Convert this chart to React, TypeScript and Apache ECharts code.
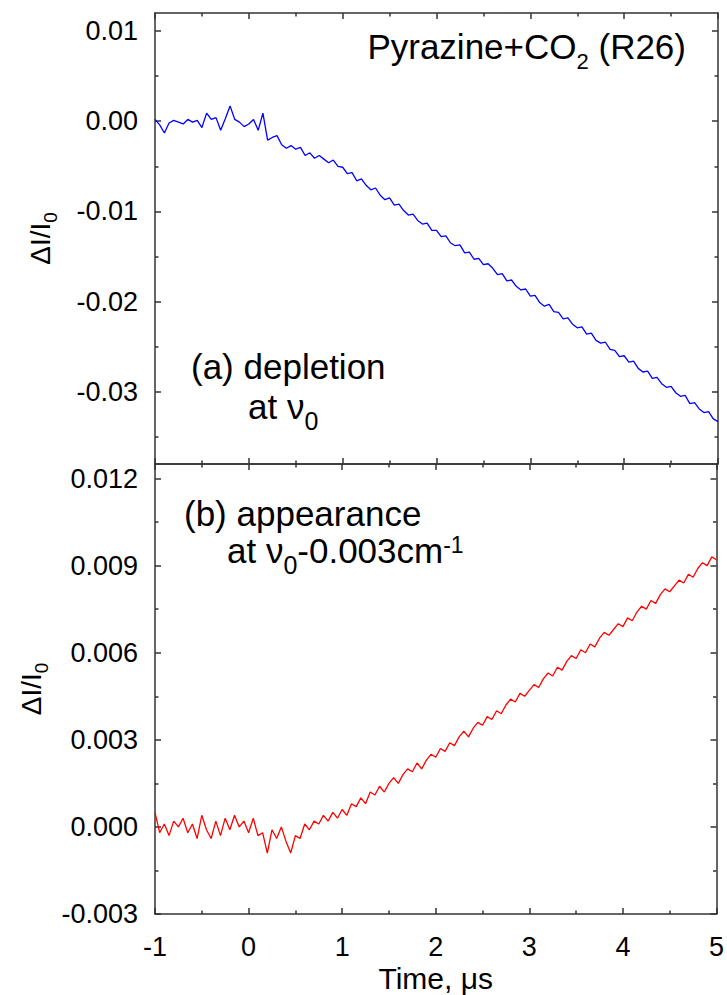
import React, { useEffect, useRef } from 'react';
import * as echarts from 'echarts';

// Time sampling of the traces (µs)
const timeStart = -1;
const timeStep = 0.05;

// (a) depletion at v0 — ΔI/I0, one value per 0.05 µs from -1 to 5
const depletion = [
  0.0002, -0.0004, -0.0013, -0.0002, 0.0001, -0.0001, -0.0003, 0.0002, -0.0001, 0.0001,
  -0.0007, 0.0009, 0.0002, 0.0004, -0.0010, 0.0003, 0.0017, 0.0002, -0.0001, -0.0006,
  -0.0003, 0.0002, -0.0010, 0.0009, -0.0021, -0.0018, -0.0016, -0.0026, -0.0030, -0.0027,
  -0.0031, -0.0029, -0.0038, -0.0035, -0.0041, -0.0038, -0.0042, -0.0046, -0.0043, -0.0050,
  -0.0051, -0.0058, -0.0057, -0.0066, -0.0064, -0.0071, -0.0076, -0.0074, -0.0082, -0.0087,
  -0.0085, -0.0093, -0.0092, -0.0099, -0.0104, -0.0103, -0.0110, -0.0114, -0.0113, -0.0121,
  -0.0121, -0.0128, -0.0127, -0.0135, -0.0138, -0.0137, -0.0146, -0.0145, -0.0153, -0.0152,
  -0.0159, -0.0158, -0.0163, -0.0170, -0.0169, -0.0177, -0.0176, -0.0183, -0.0187, -0.0186,
  -0.0194, -0.0193, -0.0201, -0.0205, -0.0203, -0.0211, -0.0212, -0.0219, -0.0218, -0.0225,
  -0.0229, -0.0228, -0.0236, -0.0235, -0.0243, -0.0246, -0.0245, -0.0253, -0.0254, -0.0261,
  -0.0260, -0.0267, -0.0266, -0.0274, -0.0278, -0.0277, -0.0285, -0.0284, -0.0291, -0.0295,
  -0.0294, -0.0301, -0.0305, -0.0304, -0.0313, -0.0312, -0.0319, -0.0323, -0.0322, -0.0330,
  -0.0333,
];

// (b) appearance at v0-0.003 cm-1 — ΔI/I0, same sampling
const appearance = [
  0.0005, -0.0002, 0.0001, -0.0003, 0.0002, 0.0000, 0.0003, -0.0002, 0.0001, -0.0004,
  0.0004, -0.0001, -0.0004, 0.0002, -0.0003, 0.0003, -0.0001, 0.0004, 0.0000, 0.0002,
  -0.0002, 0.0003, -0.0003, -0.0002, -0.0009, -0.0001, -0.0004, 0.0000, -0.0005, -0.0009,
  -0.0003, -0.0004, 0.0001, -0.0001, 0.0002, 0.0001, 0.0004, 0.0002, 0.0005, 0.0003,
  0.0006, 0.0004, 0.0008, 0.0007, 0.0010, 0.0008, 0.0012, 0.0011, 0.0014, 0.0012,
  0.0015, 0.0017, 0.0015, 0.0018, 0.0020, 0.0019, 0.0022, 0.0020, 0.0023, 0.0025,
  0.0024, 0.0027, 0.0026, 0.0029, 0.0028, 0.0031, 0.0033, 0.0031, 0.0034, 0.0036,
  0.0035, 0.0038, 0.0037, 0.0040, 0.0039, 0.0042, 0.0044, 0.0043, 0.0046, 0.0045,
  0.0047, 0.0049, 0.0048, 0.0051, 0.0053, 0.0052, 0.0055, 0.0054, 0.0057, 0.0059,
  0.0058, 0.0061, 0.0060, 0.0063, 0.0062, 0.0065, 0.0067, 0.0066, 0.0068, 0.0070,
  0.0069, 0.0072, 0.0071, 0.0074, 0.0076, 0.0075, 0.0078, 0.0077, 0.0080, 0.0082,
  0.0081, 0.0083, 0.0085, 0.0084, 0.0087, 0.0086, 0.0089, 0.0091, 0.0090, 0.0093,
  0.0092,
];

// Axes
const xMin = -1;
const xMax = 5;
const xInterval = 1;
const topYMin = -0.038;
const topYMax = 0.012;
const topYTicks = [-0.03, -0.02, -0.01, 0, 0.01];
const topYMinorTicks = [-0.035, -0.025, -0.015, -0.005, 0.005];
const bottomYMin = -0.003;
const bottomYMax = 0.0125;
const bottomYTicks = [-0.003, 0, 0.003, 0.006, 0.009, 0.012];
const bottomYMinorTicks = [-0.0015, 0.0015, 0.0045, 0.0075, 0.0105];

const FONT = '"Liberation Sans", Arial, Helvetica, sans-serif';
const AXIS_COLOR = '#333';

const toPairs = (vals: number[]) => vals.map((v, i) => [timeStart + i * timeStep, v]);

const lineStyle = { color: AXIS_COLOR, width: 1.5 };

function xAxisDef(gridIndex: number, position: 'top' | 'bottom', withLabels: boolean) {
  return {
    type: 'value',
    gridIndex,
    position,
    min: xMin,
    max: xMax,
    interval: xInterval,
    axisLine: { show: true, onZero: false, lineStyle },
    axisTick: { show: true, inside: true, length: 6, lineStyle },
    minorTick: { show: true, splitNumber: 2, length: 3.5, lineStyle },
    splitLine: { show: false },
    minorSplitLine: { show: false },
    axisLabel: {
      show: withLabels,
      color: '#000',
      fontSize: 27,
      fontFamily: FONT,
      margin: 19,
    },
    name: withLabels ? 'Time, μs' : '',
    nameLocation: 'middle',
    nameGap: 64,
    nameTextStyle: { color: '#000', fontSize: 30, fontFamily: FONT, verticalAlign: 'middle' },
  };
}

function yMajorDef(
  gridIndex: number,
  position: 'left' | 'right',
  min: number,
  max: number,
  ticks: number[],
  decimals: number,
  withLabels: boolean,
) {
  return {
    type: 'value',
    gridIndex,
    position,
    min,
    max,
    axisLine: { show: true, onZero: false, lineStyle },
    axisTick: { show: true, inside: true, length: 6, customValues: ticks, lineStyle },
    splitLine: { show: false },
    axisLabel: {
      show: withLabels,
      customValues: ticks,
      formatter: (v: number) => v.toFixed(decimals),
      color: '#000',
      fontSize: 27,
      fontFamily: FONT,
      margin: 17,
    },
    name: withLabels ? '{m|ΔI/I}{s|0}' : '',
    nameLocation: 'middle',
    nameRotate: 90,
    nameGap: 115,
    nameTextStyle: {
      color: '#000',
      fontSize: 28,
      fontFamily: FONT,
      verticalAlign: 'middle',
      rich: {
        m: { fontSize: 28, fontFamily: FONT, color: '#000' },
        s: { fontSize: 19, fontFamily: FONT, color: '#000', padding: [20, 0, 0, 0] },
      },
    },
  };
}

function yMinorDef(gridIndex: number, position: 'left' | 'right', min: number, max: number, ticks: number[]) {
  return {
    type: 'value',
    gridIndex,
    position,
    min,
    max,
    axisLine: { show: false, onZero: false },
    axisTick: { show: true, inside: true, length: 3.5, customValues: ticks, lineStyle },
    splitLine: { show: false },
    axisLabel: { show: false },
  };
}

function buildOption() {
  const main = (fontSize: number) => ({ fontSize, fontFamily: FONT, fill: '#000' });
  return {
    animation: false,
    backgroundColor: '#fff',
    grid: [
      { left: 155, top: 13, width: 563, height: 451, containLabel: false },
      { left: 155, top: 464, width: 563, height: 450, containLabel: false },
    ],
    xAxis: [
      xAxisDef(0, 'bottom', false),
      xAxisDef(0, 'top', false),
      xAxisDef(1, 'bottom', true),
      xAxisDef(1, 'top', false),
    ],
    yAxis: [
      yMajorDef(0, 'left', topYMin, topYMax, topYTicks, 2, true),
      yMinorDef(0, 'left', topYMin, topYMax, topYMinorTicks),
      yMajorDef(0, 'right', topYMin, topYMax, topYTicks, 2, false),
      yMinorDef(0, 'right', topYMin, topYMax, topYMinorTicks),
      yMajorDef(1, 'left', bottomYMin, bottomYMax, bottomYTicks, 3, true),
      yMinorDef(1, 'left', bottomYMin, bottomYMax, bottomYMinorTicks),
      yMajorDef(1, 'right', bottomYMin, bottomYMax, bottomYTicks, 3, false),
      yMinorDef(1, 'right', bottomYMin, bottomYMax, bottomYMinorTicks),
    ],
    series: [
      {
        name: 'depletion',
        type: 'line',
        xAxisIndex: 0,
        yAxisIndex: 0,
        data: toPairs(depletion),
        showSymbol: false,
        lineStyle: { color: '#0000ff', width: 1.3 },
        itemStyle: { color: '#0000ff' },
      },
      {
        name: 'appearance',
        type: 'line',
        xAxisIndex: 2,
        yAxisIndex: 4,
        data: toPairs(appearance),
        showSymbol: false,
        lineStyle: { color: '#ff0000', width: 1.3 },
        itemStyle: { color: '#ff0000' },
      },
    ],
    graphic: [
      {
        type: 'text',
        x: 686,
        y: 46,
        style: {
          text: '{m|Pyrazine+CO}{s|2}{m| (R26)}',
          align: 'right',
          verticalAlign: 'middle',
          fill: '#000',
          rich: {
            m: main(35),
            s: { fontSize: 22, fontFamily: FONT, fill: '#000', padding: [30, 0, 0, 0] },
          },
        },
      },
      {
        type: 'text',
        x: 191,
        y: 366,
        style: { text: '(a) depletion', align: 'left', verticalAlign: 'middle', fill: '#000', fontSize: 35, fontFamily: FONT },
      },
      {
        type: 'text',
        x: 248,
        y: 406,
        style: {
          text: '{m|at ν}{s|0}',
          align: 'left',
          verticalAlign: 'middle',
          fill: '#000',
          rich: {
            m: main(35),
            s: { fontSize: 25, fontFamily: FONT, fill: '#000', padding: [30, 0, 0, 0] },
          },
        },
      },
      {
        type: 'text',
        x: 184,
        y: 513,
        style: { text: '(b) appearance', align: 'left', verticalAlign: 'middle', fill: '#000', fontSize: 35, fontFamily: FONT },
      },
      {
        type: 'text',
        x: 227,
        y: 550,
        style: {
          text: '{m|at ν}{s|0}{m|-0.003cm}{p|-1}',
          align: 'left',
          verticalAlign: 'middle',
          fill: '#000',
          rich: {
            m: main(35),
            s: { fontSize: 25, fontFamily: FONT, fill: '#000', padding: [30, 0, 0, 0] },
            p: { fontSize: 23, fontFamily: FONT, fill: '#000', padding: [0, 0, 10, 0] },
          },
        },
      },
    ],
  };
}

export default function App() {
  const ref = useRef<HTMLDivElement>(null);
  useEffect(() => {
    if (!ref.current) return;
    const chart = echarts.init(ref.current, null, { renderer: 'svg' });
    chart.setOption(buildOption() as any);
    return () => chart.dispose();
  }, []);
  return (
    <div
      ref={ref}
      style={{ position: 'fixed', left: 0, top: 0, width: 727, height: 995, background: '#fff' }}
    />
  );
}
